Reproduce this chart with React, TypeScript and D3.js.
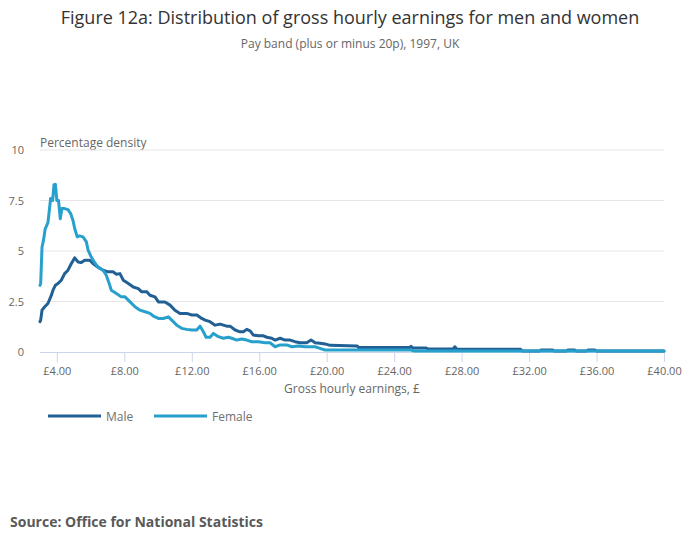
import { useEffect, useRef } from 'react'
import * as d3 from 'd3'

// Pay band (£) and percentage density
const maleX = [
  3.0, 3.04, 3.12, 3.28, 3.47, 3.67, 3.77, 3.91, 4.07, 4.26, 4.46, 4.66, 4.86, 5.06, 5.25, 5.45, 5.65, 5.95,
  6.14, 6.44, 6.74, 7.03, 7.33, 7.53, 7.74, 7.94, 8.24, 8.53, 8.83, 9.03, 9.33, 9.52, 9.82, 10.02, 10.41,
  10.71, 11.0, 11.3, 11.7, 12.0, 12.3, 12.59, 12.79, 13.08, 13.38, 13.68, 14.07, 14.27, 14.57, 14.86, 15.06,
  15.26, 15.46, 15.65, 15.95, 16.25, 16.45, 16.74, 16.94, 17.24, 17.53, 17.83, 18.12, 18.42, 18.82, 19.07,
  19.31, 19.6, 19.9, 20.2, 21.8, 21.9, 24.9, 25.0, 25.1, 25.9, 26.0, 27.5, 27.6, 27.7, 31.5, 31.6, 32.6,
  32.7, 33.4, 33.5, 34.2, 34.3, 34.7, 34.8, 35.4, 35.5, 35.9, 36.0, 40.0,
]
const maleY = [
  1.5, 1.58, 2.07, 2.24, 2.4, 2.8, 3.06, 3.3, 3.39, 3.55, 3.88, 4.05, 4.38, 4.66, 4.46, 4.43, 4.54, 4.54,
  4.38, 4.2, 4.05, 3.97, 3.97, 3.85, 3.88, 3.55, 3.39, 3.22, 3.14, 2.98, 2.98, 2.81, 2.73, 2.48, 2.48,
  2.32, 2.07, 1.91, 1.91, 1.83, 1.83, 1.66, 1.58, 1.5, 1.33, 1.38, 1.28, 1.28, 1.09, 1.0, 1.0,
  1.12, 1.05, 0.84, 0.8, 0.8, 0.73, 0.68, 0.59, 0.68, 0.59, 0.59, 0.51, 0.46, 0.46, 0.59,
  0.46, 0.43, 0.4, 0.33, 0.3, 0.22, 0.22, 0.28, 0.2, 0.2, 0.15, 0.15, 0.26, 0.15, 0.13, 0.05, 0.05,
  0.1, 0.1, 0.05, 0.05, 0.1, 0.1, 0.05, 0.05, 0.1, 0.1, 0.05, 0.05,
]

const femaleX = [
  3.0, 3.04, 3.12, 3.2, 3.31, 3.47, 3.63, 3.75, 3.83, 3.91, 4.0, 4.1, 4.2, 4.3, 4.46, 4.66, 4.82, 4.96,
  5.06, 5.21, 5.35, 5.55, 5.75, 5.85, 6.04, 6.24, 6.44, 6.74, 6.93, 7.07, 7.23, 7.53, 7.82, 8.04, 8.34,
  8.63, 8.93, 9.23, 9.52, 9.72, 10.02, 10.31, 10.61, 10.81, 11.11, 11.4, 11.7, 12.0, 12.29, 12.49, 12.69,
  12.85, 13.08, 13.28, 13.58, 13.87, 14.17, 14.37, 14.67, 14.96, 15.26, 15.56, 15.95, 16.35, 16.64, 16.94,
  17.24, 17.63, 17.93, 18.32, 18.72, 19.31, 19.6, 19.9, 25.0, 25.2, 40.0,
]
const femaleY = [
  3.3, 3.39, 5.2, 5.5, 6.1, 6.4, 7.6, 7.5, 8.28, 8.3, 7.5, 7.5, 6.6, 7.1, 7.1, 7.05, 6.85, 6.5,
  6.1, 5.7, 5.75, 5.7, 5.45, 5.04, 4.7, 4.43, 4.2, 4.05, 3.8, 3.47, 3.06, 2.9, 2.73, 2.73, 2.48,
  2.24, 2.07, 1.99, 1.91, 1.78, 1.66, 1.66, 1.74, 1.58, 1.33, 1.17, 1.12, 1.09, 1.09, 1.28, 1.0,
  0.73, 0.73, 0.92, 0.76, 0.68, 0.73, 0.68, 0.59, 0.64, 0.59, 0.51, 0.51, 0.46, 0.46, 0.26,
  0.35, 0.35, 0.26, 0.3, 0.26, 0.26, 0.18, 0.1, 0.1, 0.05, 0.05,
]

const xTicks = [4, 8, 12, 16, 20, 24, 28, 32, 36, 40]
const yTicks = [0, 2.5, 5, 7.5, 10]
const seriesNames = ['Male', 'Female']
const seriesColors = ['#206095', '#27a0cc']

const FONT = '"Open Sans", "DejaVu Sans", sans-serif'

export default function App() {
  const svgRef = useRef<SVGSVGElement>(null)

  useEffect(() => {
    if (!svgRef.current) return
    const svg = d3.select(svgRef.current)
    svg.selectAll('*').remove()

    const width = 700
    const margin = { top: 150, right: 36, left: 40 }
    const plotBottom = 352

    const x = d3.scaleLinear().domain([3, 40]).range([margin.left, width - margin.right])
    const y = d3.scaleLinear().domain([0, 10]).range([plotBottom, margin.top])

    // Titles
    svg.append('text')
      .attr('x', 350).attr('y', 24)
      .attr('text-anchor', 'middle')
      .attr('font-size', 18).attr('fill', '#333333')
      .text('Figure 12a: Distribution of gross hourly earnings for men and women')

    svg.append('text')
      .attr('x', 350).attr('y', 48)
      .attr('text-anchor', 'middle')
      .attr('font-size', 12).attr('fill', '#666666')
      .text('Pay band (plus or minus 20p), 1997, UK')

    svg.append('text')
      .attr('x', 40).attr('y', 147)
      .attr('font-size', 12).attr('fill', '#666666')
      .text('Percentage density')

    // Gridlines + y labels
    const yAxis = svg.append('g')
    yAxis.selectAll('line')
      .data(yTicks.filter((t) => t > 0))
      .join('line')
      .attr('x1', x(3)).attr('x2', x(40))
      .attr('y1', (d) => y(d)).attr('y2', (d) => y(d))
      .attr('stroke', '#e6e6e6')
    yAxis.selectAll('text')
      .data(yTicks)
      .join('text')
      .attr('x', 24).attr('y', (d) => y(d) + 4)
      .attr('text-anchor', 'end')
      .attr('font-size', 11).attr('fill', '#666666')
      .text((d) => d3.format('~g')(d))

    // X axis
    svg.append('g')
      .attr('transform', `translate(0,${plotBottom})`)
      .call(d3.axisBottom(x).tickValues(xTicks).tickSize(10).tickPadding(5).tickFormat((d) => '£' + d3.format('.2f')(d as number)))
      .call((g) => g.select('.domain').attr('stroke', '#ccd6eb').attr('d', `M${x(3)},0.5H${x(40)}`))
      .call((g) => g.selectAll('.tick line').attr('stroke', '#ccd6eb'))
      .call((g) => g.selectAll('text').attr('fill', '#666666').attr('font-size', 11).attr('font-family', FONT))

    svg.append('text')
      .attr('x', 352).attr('y', 393)
      .attr('text-anchor', 'middle')
      .attr('font-size', 12).attr('fill', '#666666')
      .text('Gross hourly earnings, £')

    // Lines
    const line = d3.line<[number, number]>()
      .x((d) => x(d[0]))
      .y((d) => y(d[1]))

    const series = [
      maleX.map((v, i) => [v, maleY[i]] as [number, number]),
      femaleX.map((v, i) => [v, femaleY[i]] as [number, number]),
    ]

    series.forEach((pts, i) => {
      svg.append('path')
        .datum(pts)
        .attr('fill', 'none')
        .attr('stroke', seriesColors[i])
        .attr('stroke-width', 3)
        .attr('stroke-linejoin', 'round')
        .attr('stroke-linecap', 'round')
        .attr('d', line)
    })

    // Legend
    const legendX = [48, 154]
    seriesNames.forEach((name, i) => {
      const lg = svg.append('g').attr('transform', `translate(${legendX[i]},416)`)
      lg.append('line')
        .attr('x1', 0).attr('x2', 53)
        .attr('y1', 0).attr('y2', 0)
        .attr('stroke', seriesColors[i])
        .attr('stroke-width', 3)
      lg.append('text')
        .attr('x', 58).attr('y', 5)
        .attr('font-size', 12).attr('fill', '#707070')
        .text(name)
    })

    svg.append('text')
      .attr('x', 10).attr('y', 527)
      .attr('font-size', 14).attr('font-weight', 'bold').attr('fill', '#595959')
      .text('Source: Office for National Statistics')
  }, [])

  return (
    <svg
      ref={svgRef}
      width={700}
      height={549}
      style={{ position: 'absolute', left: 0, top: 0, background: '#ffffff', fontFamily: FONT }}
    />
  )
}
